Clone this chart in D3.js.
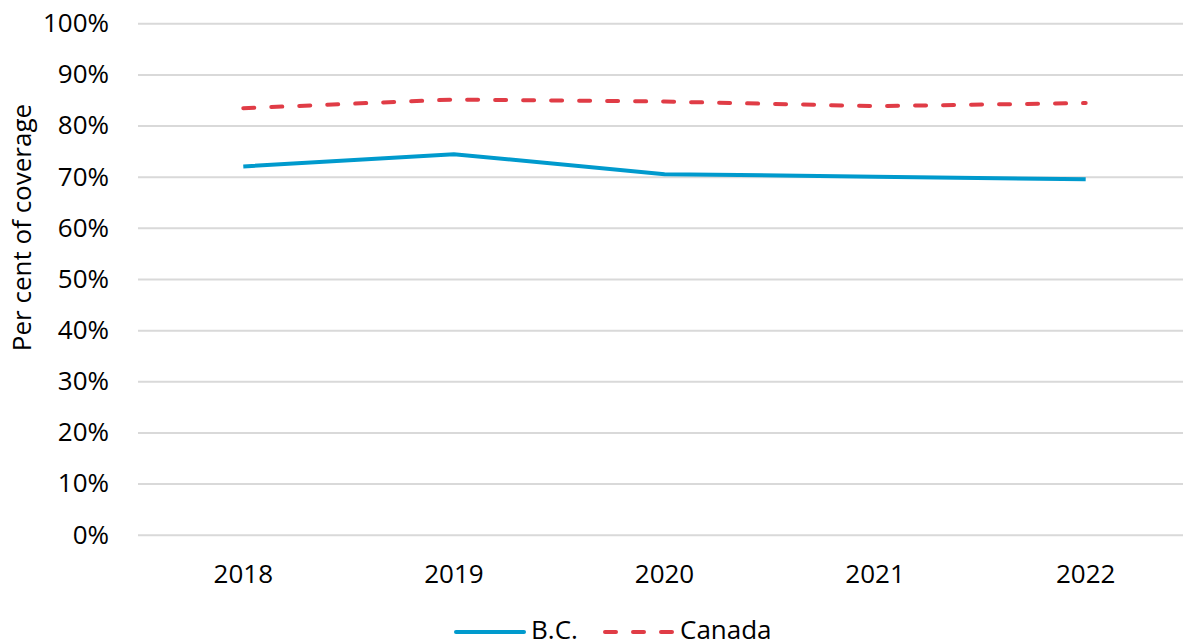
<!DOCTYPE html>
<html>
<head>
<meta charset="utf-8">
<script src="https://cdn.jsdelivr.net/npm/d3@7"></script>
<style>
  html, body { margin: 0; padding: 0; background: #fff; }
  svg { display: block; font-family: "Open Sans", "Noto Sans", sans-serif; }
</style>
</head>
<body>
<svg id="chart" width="1183" height="643"></svg>
<script>
// Coverage by year, per cent
const years = ["2018", "2019", "2020", "2021", "2022"];
const bcValues = [72.0, 74.4, 70.5, 70.0, 69.5];
const canadaValues = [83.4, 85.1, 84.7, 83.8, 84.4];
const yTicks = [0, 10, 20, 30, 40, 50, 60, 70, 80, 90, 100];
const seriesNames = ["B.C.", "Canada"];

const W = 1183, H = 643;
const plot = { left: 138, right: 1191, top: 23.3, bottom: 534.7 };
const fontSize = 26;
const colors = { bc: "#009ACD", canada: "#E03C46", grid: "#D9D9D9", text: "#000" };

const svg = d3.select("#chart");

const x = d3.scaleBand().domain(years).range([plot.left, plot.right]).padding(0);
const y = d3.scaleLinear().domain([0, 100]).range([plot.bottom, plot.top]);
const cx = d => x(d) + x.bandwidth() / 2;

// horizontal gridlines with percentage labels
const yAxis = d3.axisLeft(y)
  .tickValues(yTicks)
  .tickSize(-(W - plot.left))
  .tickPadding(29)
  .tickFormat(d => d + "%");

const gy = svg.append("g")
  .attr("transform", `translate(${plot.left},0)`)
  .call(yAxis);
gy.select(".domain").remove();
gy.selectAll(".tick line").attr("stroke", colors.grid).attr("stroke-width", 2);
gy.selectAll(".tick text")
  .attr("fill", colors.text)
  .style("font-size", fontSize + "px")
  .style("font-family", '"Open Sans", "Noto Sans", sans-serif');

// year labels
const xAxis = d3.axisBottom(x).tickSize(0).tickPadding(29.5);
const gx = svg.append("g")
  .attr("transform", `translate(0,${plot.bottom})`)
  .call(xAxis);
gx.select(".domain").remove();
gx.selectAll(".tick text")
  .attr("fill", colors.text)
  .style("font-size", fontSize + "px")
  .style("font-family", '"Open Sans", "Noto Sans", sans-serif');

// y axis title
svg.append("text")
  .attr("transform", `translate(31,${(plot.top + plot.bottom) / 2 - 51.5}) rotate(-90)`)
  .attr("text-anchor", "middle")
  .style("font-size", fontSize + "px")
  .attr("fill", colors.text)
  .text("Per cent of coverage");

const line = d3.line()
  .x((d, i) => cx(years[i]))
  .y(d => y(d));

svg.append("path")
  .datum(canadaValues)
  .attr("d", line)
  .attr("fill", "none")
  .attr("stroke", colors.canada)
  .attr("stroke-width", 4)
  .attr("stroke-linecap", "round")
  .attr("stroke-dasharray", "11,17");

svg.append("path")
  .datum(bcValues)
  .attr("d", line)
  .attr("fill", "none")
  .attr("stroke", colors.bc)
  .attr("stroke-width", 4)
  .attr("stroke-linecap", "butt");

// legend
const legend = svg.append("g").attr("transform", "translate(0,632)");
const items = [
  { name: seriesNames[0], color: colors.bc, dash: null, x0: 456 },
  { name: seriesNames[1], color: colors.canada, dash: "11,17", x0: 605 }
];
items.forEach(it => {
  legend.append("line")
    .attr("x1", it.x0).attr("x2", it.x0 + 68)
    .attr("y1", 0).attr("y2", 0)
    .attr("stroke", it.color)
    .attr("stroke-width", 4)
    .attr("stroke-linecap", "round")
    .attr("stroke-dasharray", it.dash);
  legend.append("text")
    .attr("x", it.x0 + 75)
    .attr("y", 7)
    .style("font-size", fontSize + "px")
    .attr("fill", colors.text)
    .text(it.name);
});
</script>
</body>
</html>
